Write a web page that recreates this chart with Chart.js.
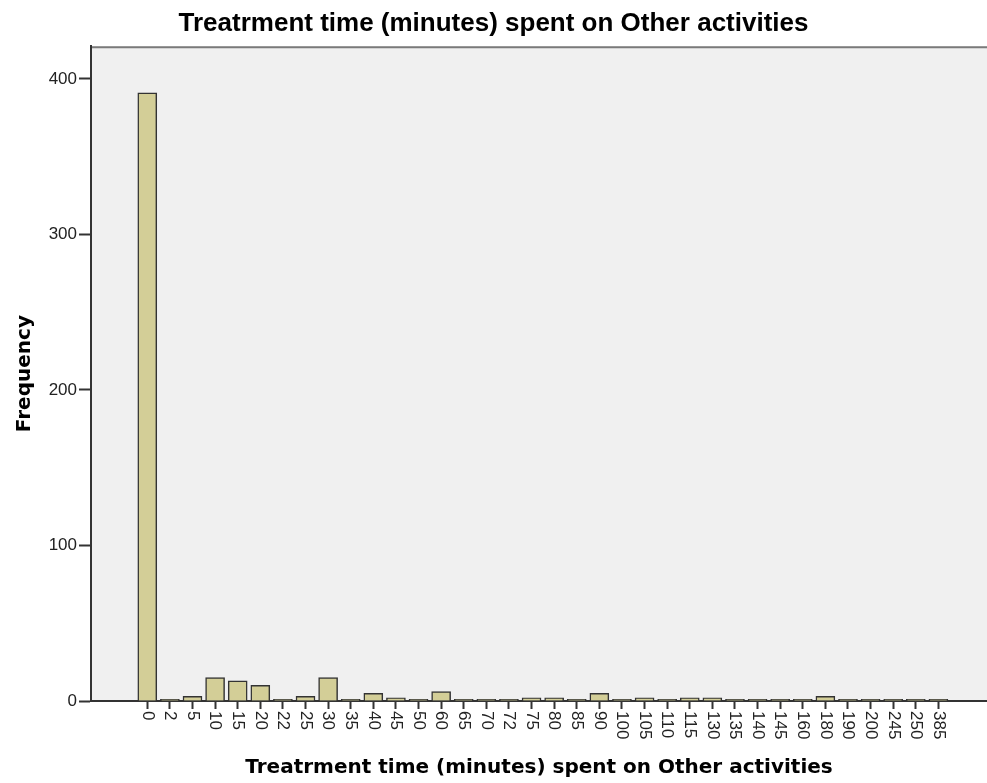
<!DOCTYPE html>
<html>
<head>
<meta charset="utf-8">
<title>Treatrment time (minutes) spent on Other activities</title>
<script src="https://cdn.jsdelivr.net/npm/chart.js@4/dist/chart.umd.min.js"></script>
<style>
  html, body { margin: 0; padding: 0; background: #fff; }
  #chart { display: block; }
</style>
</head>
<body>
<canvas id="chart" width="987" height="783"></canvas>
<script>
const minutes = ['0', '2', '5', '10', '15', '20', '22', '25', '30', '35', '40', '45',
  '50', '60', '65', '70', '72', '75', '80', '85', '90', '100', '105', '110', '115',
  '130', '135', '140', '145', '160', '180', '190', '200', '245', '250', '385'];
const frequency = [391, 1, 3, 15, 13, 10, 1, 3, 15, 1, 5, 2,
  1, 6, 1, 1, 1, 2, 2, 1, 5, 1, 2, 1, 2,
  2, 1, 1, 1, 1, 3, 1, 1, 1, 1, 1];
const yTicks = [0, 100, 200, 300, 400];

const titleText = 'Treatrment time (minutes) spent on Other activities';

// grey plot background with a frame line along the top
const plotBackground = {
  id: 'plotBackground',
  beforeDraw(chart) {
    const { ctx, chartArea: a } = chart;
    ctx.save();
    ctx.fillStyle = '#f0f0f0';
    ctx.fillRect(a.left, a.top, a.right - a.left, a.bottom - a.top);
    ctx.strokeStyle = '#7a7a7a';
    ctx.lineWidth = 2;
    ctx.beginPath();
    ctx.moveTo(a.left, a.top + 1);
    ctx.lineTo(a.right, a.top + 1);
    ctx.stroke();
    ctx.restore();
  }
};

// category labels turned to read downwards under each tick
const downLabels = {
  id: 'downLabels',
  afterDraw(chart) {
    const { ctx, scales: { x } } = chart;
    ctx.save();
    ctx.font = '17px "Liberation Sans", Arial, sans-serif';
    ctx.fillStyle = '#222';
    ctx.textAlign = 'left';
    ctx.textBaseline = 'middle';
    minutes.forEach((label, i) => {
      ctx.save();
      ctx.translate(x.getPixelForValue(i), x.top + 10);
      ctx.rotate(Math.PI / 2);
      ctx.fillText(label, 0, 0);
      ctx.restore();
    });
    ctx.restore();
  }
};

const ctx = document.getElementById('chart').getContext('2d');
new Chart(ctx, {
  type: 'bar',
  data: {
    datasets: [{
      label: 'Frequency',
      data: frequency.map((v, i) => ({ x: i, y: v })),
      backgroundColor: 'rgb(211, 206, 151)',
      borderColor: '#333',
      borderWidth: 1.5,
      barThickness: 19
    }]
  },
  options: {
    responsive: false,
    animation: false,
    layout: { padding: 0 },
    plugins: {
      legend: { display: false },
      tooltip: { enabled: false },
      title: {
        display: true,
        text: titleText,
        color: '#000',
        font: { family: '"Liberation Sans", Arial, sans-serif', size: 26, weight: 'bold', lineHeight: 1.2 },
        padding: { top: 8, bottom: 7 }
      }
    },
    scales: {
      x: {
        type: 'linear',
        min: -2.49,
        max: 37.15,
        offset: false,
        afterBuildTicks(scale) {
          scale.ticks = minutes.map((_, i) => ({ value: i }));
        },
        afterFit(scale) { scale.height = 82; },
        ticks: { display: false },
        grid: {
          offset: false,
          drawOnChartArea: false,
          drawTicks: true,
          tickLength: 8,
          tickWidth: 2,
          tickColor: '#333'
        },
        border: { display: true, color: '#333', width: 2 },
        title: {
          display: true,
          text: titleText,
          color: '#000',
          font: { family: '"DejaVu Sans", Tahoma, sans-serif', size: 20, weight: 'bold', lineHeight: 1.2 },
          padding: { top: 0, bottom: 3 }
        }
      },
      y: {
        min: 0,
        max: 421,
        afterBuildTicks(scale) {
          scale.ticks = yTicks.map(v => ({ value: v }));
        },
        afterFit(scale) { scale.width = 91; },
        ticks: {
          color: '#222',
          padding: 2,
          font: { family: '"Liberation Sans", Arial, sans-serif', size: 17 }
        },
        grid: {
          drawOnChartArea: false,
          drawTicks: true,
          tickLength: 12,
          tickWidth: 2,
          tickColor: '#333'
        },
        border: { display: true, color: '#333', width: 2 },
        title: {
          display: true,
          text: 'Frequency',
          color: '#000',
          font: { family: '"DejaVu Sans", Tahoma, sans-serif', size: 20, weight: 'bold', lineHeight: 1.2 },
          padding: { top: 13, bottom: 0 }
        }
      }
    }
  },
  plugins: [plotBackground, downLabels]
});
</script>
</body>
</html>
